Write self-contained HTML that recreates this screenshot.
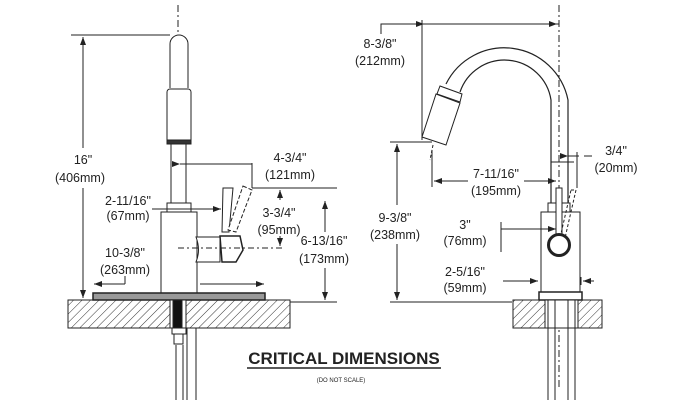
<!DOCTYPE html>
<html><head><meta charset="utf-8"><style>html,body{margin:0;padding:0;background:#fff}svg{display:block}
text{font-family:"Liberation Sans Narrow","Liberation Sans",sans-serif;font-size:12.5px;fill:#222;text-anchor:middle}</style></head>
<body>
<svg width="696" height="400" viewBox="0 0 696 400" xmlns="http://www.w3.org/2000/svg">
<defs>
<pattern id="h" width="6" height="6" patternUnits="userSpaceOnUse" patternTransform="rotate(45)"><line x1="0" y1="0" x2="0" y2="6" stroke="#333" stroke-width="1"/></pattern>
<marker id="a" markerWidth="8" markerHeight="6" refX="8" refY="3" orient="auto"><path d="M0,0 L8,3 L0,6z" fill="#222"/></marker>
</defs>
<g stroke="#222" stroke-width="1" fill="none">
<!-- LEFT FAUCET -->
<line x1="178" y1="5" x2="178" y2="345" stroke-dasharray="7,3,2,3"/>
<path d="M170,88 V44 a9,9 0 0 1 18,0 V88" fill="#fff"/>
<rect x="167" y="89" width="24" height="54" rx="3" fill="#fff"/>
<rect x="167" y="140" width="24" height="4" fill="#333"/>
<rect x="171" y="144" width="15" height="59" fill="#fff"/>
<rect x="167" y="203" width="24" height="9" fill="#fff"/>
<rect x="161" y="212" width="36" height="81" fill="#fff"/>
<path d="M196,237 H220 V262 H196 q5,-12 0,-25z" fill="#fff"/>
<path d="M223,188 H233 L229,232 L222,232z" fill="#fff"/>
<path d="M243,186 L252,190 L236,232 L228,230z" fill="#fff" stroke-dasharray="4,2"/>
<path d="M220,236 H240 L243,250 L236,262 L222,262z" fill="#fff" stroke-width="1.5"/>
<rect x="93" y="293" width="172" height="7" fill="#999" stroke-width="1.5"/>
<rect x="68" y="300" width="222" height="28" fill="url(#h)"/>
<rect x="170" y="300" width="16" height="28" fill="#fff"/>
<rect x="173" y="300" width="9" height="28" fill="#111"/>
<rect x="172" y="328" width="14" height="6" fill="#fff"/>
<rect x="174" y="334" width="9" height="10" fill="#fff"/>
<line x1="176" y1="345" x2="176" y2="400"/><line x1="183" y1="345" x2="183" y2="400"/>
<line x1="187" y1="328" x2="187" y2="400"/><line x1="196" y1="328" x2="196" y2="400"/>
<!-- left dims -->
<line x1="71" y1="35" x2="170" y2="35"/>
<line x1="83" y1="148" x2="83" y2="37" marker-end="url(#a)"/>
<line x1="83" y1="188" x2="83" y2="298" marker-end="url(#a)"/>
<line x1="180" y1="164" x2="252" y2="164" marker-start="url(#a)"/>
<line x1="252" y1="163" x2="252" y2="188"/>
<line x1="252" y1="188" x2="337" y2="188"/>
<line x1="280" y1="200" x2="280" y2="190" marker-end="url(#a)"/>
<line x1="280" y1="236" x2="280" y2="246" marker-end="url(#a)"/>
<line x1="178" y1="248" x2="285" y2="248" stroke-dasharray="6,3,2,3"/>
<line x1="325" y1="232" x2="325" y2="201" marker-end="url(#a)"/>
<line x1="325" y1="268" x2="325" y2="300" marker-end="url(#a)"/>
<line x1="290" y1="302" x2="337" y2="302"/>
<line x1="152" y1="209" x2="221" y2="209" marker-end="url(#a)"/>
<line x1="125" y1="284" x2="94" y2="284" marker-end="url(#a)"/>
<line x1="125" y1="276" x2="125" y2="284"/>
<line x1="200" y1="284" x2="264" y2="284" marker-end="url(#a)"/>
<!-- RIGHT FAUCET -->
<line x1="559" y1="5" x2="559" y2="390" stroke-dasharray="7,3,2,3"/>
<path d="M568,205 V100 A65,65 0 0 0 446,84" fill="none" stroke-width="1.2"/>
<path d="M551,205 V100 A47,47 0 0 0 460,92" fill="none" stroke-width="1.2"/>
<path d="M440,86 L462,94 L460,102 L437,94z" fill="#fff"/>
<path d="M436,94 L460,103 L446,145 L422,137z" fill="#fff"/>
<line x1="433" y1="145" x2="430" y2="160" stroke-dasharray="3,2"/>
<rect x="548" y="203" width="22" height="9" fill="#fff"/>
<rect x="541" y="212" width="39" height="81" fill="#fff"/>
<rect x="556" y="188" width="6" height="52" fill="#fff"/>
<path d="M571,190 L576,190 L565,238 L560,238z" stroke-dasharray="3,2"/>
<circle cx="559" cy="245" r="10.5" fill="#fff" stroke-width="3"/>
<rect x="539" y="292" width="43" height="8" fill="#fff" stroke-width="1.5"/>
<rect x="513" y="300" width="89" height="28" fill="url(#h)"/>
<rect x="545" y="300" width="33" height="28" fill="#fff"/>
<line x1="548" y1="300" x2="548" y2="400"/><line x1="555" y1="300" x2="555" y2="400"/>
<line x1="568" y1="300" x2="568" y2="400"/><line x1="575" y1="300" x2="575" y2="400"/>
<!-- right dims -->
<polyline points="381,34 381,24 559,24"/>
<line x1="424" y1="24" x2="557" y2="24" marker-start="url(#a)" marker-end="url(#a)"/>
<line x1="422" y1="20" x2="422" y2="140"/>
<line x1="390" y1="142" x2="432" y2="142"/>
<line x1="397" y1="205" x2="397" y2="144" marker-end="url(#a)"/>
<line x1="397" y1="244" x2="397" y2="300" marker-end="url(#a)"/>
<line x1="390" y1="302" x2="512" y2="302"/>
<line x1="432" y1="150" x2="432" y2="187"/>
<line x1="468" y1="181" x2="434" y2="181" marker-end="url(#a)"/>
<line x1="524" y1="181" x2="556" y2="181" marker-end="url(#a)"/>
<line x1="551" y1="162" x2="574" y2="162"/>
<line x1="568" y1="156" x2="579" y2="156" marker-start="url(#a)"/>
<line x1="577" y1="152" x2="577" y2="188"/>
<line x1="584" y1="156" x2="592" y2="156"/>
<line x1="501" y1="222" x2="501" y2="252"/>
<line x1="501" y1="229" x2="556" y2="229" marker-end="url(#a)"/>
<line x1="503" y1="281" x2="538" y2="281" marker-end="url(#a)"/>
<line x1="581" y1="277" x2="581" y2="285"/>
<line x1="594" y1="281" x2="583" y2="281" marker-end="url(#a)"/>
</g>
<text x="83" y="164">16"</text><text x="80" y="182">(406mm)</text>
<text x="290" y="162">4-3/4"</text><text x="290" y="179">(121mm)</text>
<text x="279" y="217">3-3/4"</text><text x="279" y="234">(95mm)</text>
<text x="324" y="245">6-13/16"</text><text x="324" y="263">(173mm)</text>
<text x="128" y="205">2-11/16"</text><text x="128" y="220">(67mm)</text>
<text x="125" y="257">10-3/8"</text><text x="125" y="274">(263mm)</text>
<text x="380" y="48">8-3/8"</text><text x="380" y="65">(212mm)</text>
<text x="395" y="222">9-3/8"</text><text x="395" y="239">(238mm)</text>
<text x="496" y="178">7-11/16"</text><text x="496" y="195">(195mm)</text>
<text x="616" y="155">3/4"</text><text x="616" y="172">(20mm)</text>
<text x="465" y="229">3"</text><text x="465" y="245">(76mm)</text>
<text x="465" y="276">2-5/16"</text><text x="465" y="292">(59mm)</text>
<text x="344" y="364" style="font-family:'Liberation Sans',sans-serif;font-weight:bold;font-size:17px">CRITICAL DIMENSIONS</text>
<line x1="247" y1="368" x2="441" y2="368" stroke="#222" stroke-width="1.5"/>
<text x="341" y="382" style="font-size:6px">(DO NOT SCALE)</text>
</svg>
</body></html>
